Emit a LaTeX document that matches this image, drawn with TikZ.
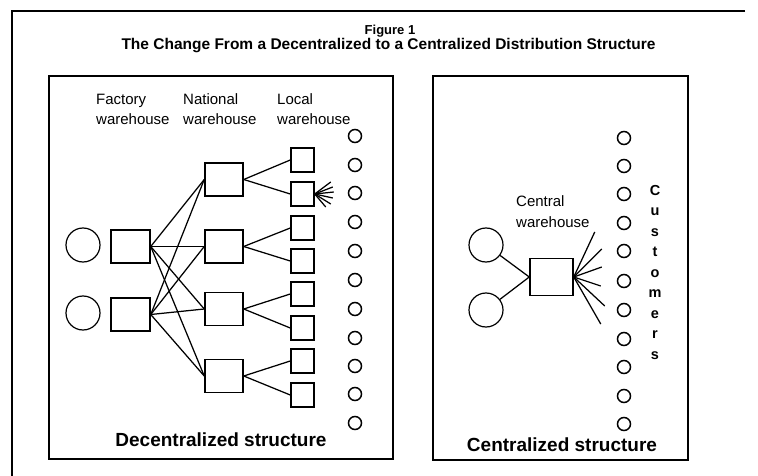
\documentclass[tikz,border=0pt]{standalone}
\usepackage{fontspec}
\setmainfont{Liberation Sans}
\begin{document}
\begin{tikzpicture}[x=1pt,y=-1pt,
  box/.style={draw,line width=1.5pt,inner sep=0pt,minimum width=38pt,minimum height=33pt},
  lbox/.style={draw,line width=1.5pt,inner sep=0pt,minimum width=23pt,minimum height=24pt},
  cbox/.style={draw,line width=1.5pt,inner sep=0pt,minimum width=43pt,minimum height=37pt},
  src/.style={draw,circle,line width=1.2pt,inner sep=0pt,minimum size=34pt},
  cust/.style={draw,circle,line width=1.5pt,inner sep=0pt,minimum size=13pt},
  link/.style={line width=1.25pt},
  lab/.style={anchor=base west,inner sep=0pt,font=\fontsize{15}{18}\selectfont},
  big/.style={anchor=base,inner sep=0pt,font=\fontsize{19}{22}\selectfont\bfseries},
  cl/.style={anchor=base,inner sep=0pt,font=\fontsize{14.5}{16}\selectfont\bfseries},
  frame/.style={line width=1.4pt}]
\useasboundingbox (0,0) rectangle (758,476);
% outer frame
\draw[frame] (745,11) -- (12,11) -- (12,476);
% title
\node[anchor=base,inner sep=0pt,font=\fontsize{13}{15}\selectfont\bfseries] (fig) at (390,35) {Figure 1};
\node[anchor=base,inner sep=0pt,font=\fontsize{15.5}{18}\selectfont\bfseries] (title) at (388.5,50) {The Change From a Decentralized to a Centralized Distribution Structure};
% panels
\draw[frame] (49,76) rectangle (393,459);
\draw[frame] (433,76) rectangle (688,460);
% ---------- left panel ----------
\node[lab] (fa1) at (96,105) {Factory};
\node[lab] (fa2) at (96,125) {warehouse};
\node[lab] (na1) at (183,105) {National};
\node[lab] (na2) at (183,125) {warehouse};
\node[lab] (lo1) at (277,105) {Local};
\node[lab] (lo2) at (277,125) {warehouse};
\node[src] (s1) at (83,245) {};
\node[src] (s2) at (83,313) {};
\node[box,minimum width=39pt] (f1) at (130.5,246.5) {};
\node[box,minimum width=39pt] (f2) at (130.5,314.5) {};
\node[box] (n1) at (224,179.5) {};
\node[box] (n2) at (224,246.5) {};
\node[box] (n3) at (224,309) {};
\node[box] (n4) at (224,376) {};
\foreach \i/\y in {1/160,2/194,3/228,4/261,5/294,6/328,7/361,8/395}
  \node[lbox] (l\i) at (302.5,\y) {};
\foreach \i/\y in {1/136,2/165,3/193,4/222,5/251,6/280,7/309,8/338,9/366,10/394,11/423}
  \node[cust] (c\i) at (355,\y) {};
\foreach \f in {f1,f2}
  \foreach \n in {n1,n2,n3,n4}
    \draw[link] (\f.east) -- (\n.west);
\draw[link] (n1.east) -- (l1.west);
\draw[link] (n1.east) -- (l2.west);
\draw[link] (n2.east) -- (l3.west);
\draw[link] (n2.east) -- (l4.west);
\draw[link] (n3.east) -- (l5.west);
\draw[link] (n3.east) -- (l6.west);
\draw[link] (n4.east) -- (l7.west);
\draw[link] (n4.east) -- (l8.west);
\foreach \dx/\dy in {16/-12,18/-7,19/-2,18/4,16/10,11/13}
  \draw[link] (l2.east) -- ++(\dx,\dy);
\node[big] (dec) at (221,446) {Decentralized structure};
% ---------- right panel ----------
\node[lab] (ce1) at (516,206) {Central};
\node[lab] (ce2) at (516,227) {warehouse};
\node[src] (r1) at (486,245) {};
\node[src] (r2) at (486,310) {};
\node[cbox] (cw) at (551.5,277) {};
\draw[link] (r1) -- (cw.west);
\draw[link] (r2) -- (cw.west);
\foreach \dx/\dy in {21/-45,28/-28,28/-10,27/9,31/29,27/47}
  \draw[link] (cw.east) -- ++(\dx,\dy);
\foreach \i/\y in {1/138,2/166,3/194,4/223,5/251,6/281,7/310,8/339,9/367,10/396,11/424}
  \node[cust] (d\i) at (624,\y) {};
\foreach \ch [count=\k from 0] in {C,u,s,t,o,m,e,r,s}
  \node[cl] (cu\k) at (655,195+20.5*\k) {\ch};
\node[big] (cen) at (562,451) {Centralized structure};
\end{tikzpicture}
\end{document}
